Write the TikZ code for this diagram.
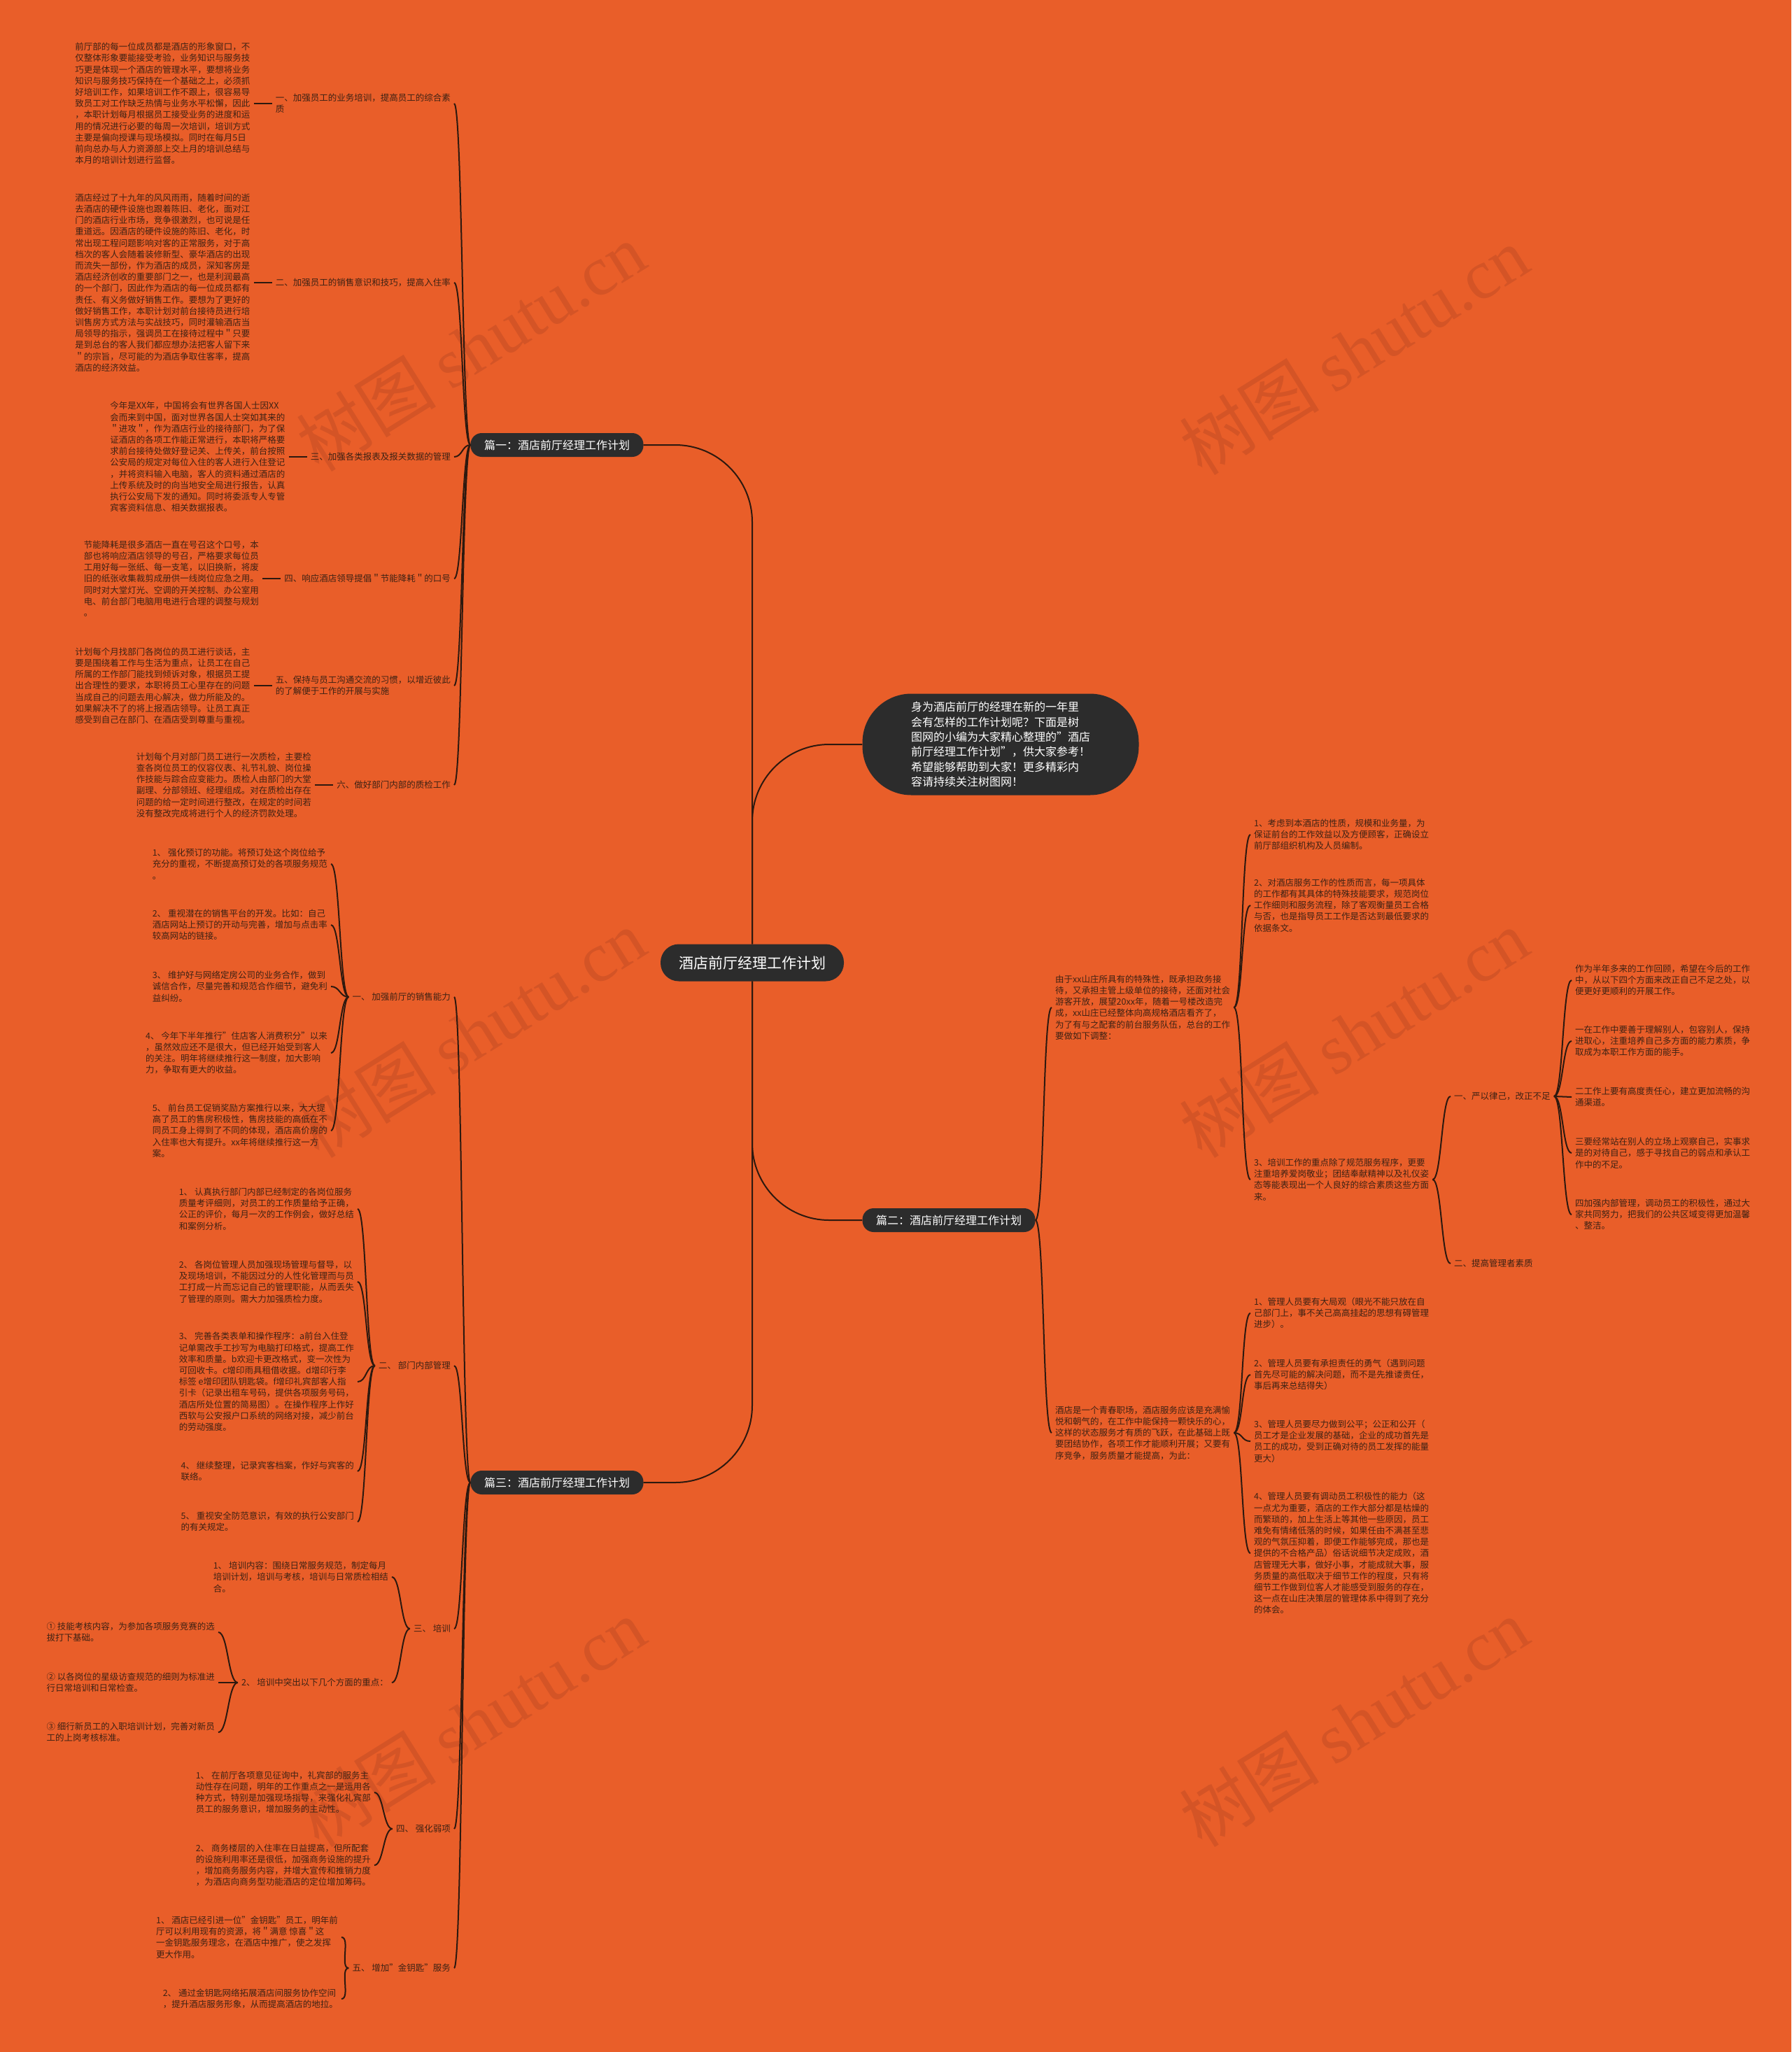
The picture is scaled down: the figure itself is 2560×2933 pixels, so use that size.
\documentclass[tikz,border=0pt]{standalone}
\usepackage{fontspec}
\setmainfont{Noto Sans CJK SC}
\newfontfamily\wmlatin{Liberation Serif}
\usetikzlibrary{positioning,calc}
\definecolor{bgorange}{RGB}{233,94,41}
\definecolor{inkbrown}{RGB}{62,34,20}
\definecolor{linebrown}{RGB}{45,25,15}
\definecolor{nodedark}{RGB}{44,44,44}
\definecolor{markorange}{RGB}{212,84,38}
\tikzset{LINK/.style={draw=linebrown, line width=2pt}}
\tikzset{LEAF/.style={text=inkbrown, align=left, inner sep=5pt, font=\fontsize{12.5}{16.2}\selectfont}}
\tikzset{PIAN/.style={fill=nodedark, text=white, rounded corners=16pt, minimum width=247pt, minimum height=34pt, font=\fontsize{16}{20}\selectfont}}
\tikzset{ROOT/.style={fill=nodedark, text=white, rounded corners=26pt, minimum width=262pt, minimum height=53pt, font=\fontsize{21}{25}\selectfont}}
\tikzset{INTRO/.style={fill=nodedark, text=white, align=left, rounded corners=70pt, minimum width=395pt, minimum height=145pt, font=\fontsize{16}{21.3}\selectfont}}
\tikzset{WMARK/.style={text=markorange, rotate=32, font=\fontsize{100}{100}\selectfont}}

\begin{document}
\begin{tikzpicture}[x=1pt, y=-1pt]
    \fill[bgorange] (0,0) rectangle (2560,2933);
    \useasboundingbox (0,0) rectangle (2560,2933);

    % watermarks
    \foreach \wx/\wy in {673/496, 1935/501, 673/1477, 1935/1477, 673/2462, 1935/2462}
        \node[WMARK] at (\wx,\wy) {树图 {\wmlatin shutu.cn}};

    % centre, intro and the three parts
    \node[ROOT] (n_root) at (1075,1376) {酒店前厅经理工作计划};
    \node[INTRO] (n_intro) at (1430,1064) {
        身为酒店前厅的经理在新的一年里\\
        会有怎样的工作计划呢？下面是树\\
        图网的小编为大家精心整理的"酒店\\
        前厅经理工作计划"，供大家参考！\\
        希望能够帮助到大家！更多精彩内\\
        容请持续关注树图网！};
    \node[PIAN] (n_pian1) at (796,636) {篇一：酒店前厅经理工作计划};
    \node[PIAN] (n_pian2) at (1356,1744) {篇二：酒店前厅经理工作计划};
    \node[PIAN] (n_pian3) at (796,2119) {篇三：酒店前厅经理工作计划};

    \draw[LINK, rounded corners=110pt] (n_root.north) |- (n_pian1.east);
    \draw[LINK, rounded corners=110pt] (n_root.north) |- (n_intro.west);
    \draw[LINK, rounded corners=110pt] (n_root.south) |- (n_pian2.west);
    \draw[LINK, rounded corners=110pt] (n_root.south) |- (n_pian3.east);

    % ---- part one
    \node[LEAF, anchor=east] (n_p1a) at (649,148) {一、加强员工的业务培训，提高员工的综合素\\质};
    \node[LEAF, anchor=east] (n_p1b) at (649,404) {二、加强员工的销售意识和技巧，提高入住率};
    \node[LEAF, anchor=east] (n_p1c) at (649,653) {三、加强各类报表及报关数据的管理};
    \node[LEAF, anchor=east] (n_p1d) at (649,827) {四、响应酒店领导提倡＂节能降耗＂的口号};
    \node[LEAF, anchor=east] (n_p1e) at (649,980) {五、保持与员工沟通交流的习惯，以增近彼此\\的了解便于工作的开展与实施};
    \node[LEAF, anchor=east] (n_p1f) at (649,1122) {六、做好部门内部的质检工作};

    \node[LEAF, left=26pt of n_p1a] (n_p1a_txt) {
        前厅部的每一位成员都是酒店的形象窗口，不\\
        仅整体形象要能接受考验，业务知识与服务技\\
        巧更是体现一个酒店的管理水平，要想将业务\\
        知识与服务技巧保持在一个基础之上，必须抓\\
        好培训工作，如果培训工作不跟上，很容易导\\
        致员工对工作缺乏热情与业务水平松懈，因此\\
        ，本职计划每月根据员工接受业务的进度和运\\
        用的情况进行必要的每周一次培训，培训方式\\
        主要是偏向授课与现场模拟。同时在每月5日\\
        前向总办与人力资源部上交上月的培训总结与\\
        本月的培训计划进行监督。};
    \node[LEAF, left=26pt of n_p1b] (n_p1b_txt) {
        酒店经过了十九年的风风雨雨，随着时间的逝\\
        去酒店的硬件设施也跟着陈旧、老化，面对江\\
        门的酒店行业市场，竞争很激烈，也可说是任\\
        重道远。因酒店的硬件设施的陈旧、老化，时\\
        常出现工程问题影响对客的正常服务，对于高\\
        档次的客人会随着装修新型、豪华酒店的出现\\
        而流失一部份，作为酒店的成员，深知客房是\\
        酒店经济创收的重要部门之一，也是利润最高\\
        的一个部门，因此作为酒店的每一位成员都有\\
        责任、有义务做好销售工作。要想为了更好的\\
        做好销售工作，本职计划对前台接待员进行培\\
        训售房方式方法与实战技巧，同时灌输酒店当\\
        局领导的指示，强调员工在接待过程中＂只要\\
        是到总台的客人我们都应想办法把客人留下来\\
        ＂的宗旨，尽可能的为酒店争取住客率，提高\\
        酒店的经济效益。};
    \node[LEAF, left=26pt of n_p1c] (n_p1c_txt) {
        今年是XX年，中国将会有世界各国人士因XX\\
        会而来到中国，面对世界各国人士突如其来的\\
        ＂进攻＂，作为酒店行业的接待部门，为了保\\
        证酒店的各项工作能正常进行，本职将严格要\\
        求前台接待处做好登记关、上传关，前台按照\\
        公安局的规定对每位入住的客人进行入住登记\\
        ，并将资料输入电脑，客人的资料通过酒店的\\
        上传系统及时的向当地安全局进行报告，认真\\
        执行公安局下发的通知。同时将委派专人专管\\
        宾客资料信息、相关数据报表。};
    \node[LEAF, left=26pt of n_p1d] (n_p1d_txt) {
        节能降耗是很多酒店一直在号召这个口号，本\\
        部也将响应酒店领导的号召，严格要求每位员\\
        工用好每一张纸、每一支笔，以旧换新，将废\\
        旧的纸张收集裁剪成册供一线岗位应急之用。\\
        同时对大堂灯光、空调的开关控制、办公室用\\
        电、前台部门电脑用电进行合理的调整与规划\\
        。};
    \node[LEAF, left=26pt of n_p1e] (n_p1e_txt) {
        计划每个月找部门各岗位的员工进行谈话，主\\
        要是围绕着工作与生活为重点，让员工在自己\\
        所属的工作部门能找到倾诉对象，根据员工提\\
        出合理性的要求，本职将员工心里存在的问题\\
        当成自己的问题去用心解决，做力所能及的。\\
        如果解决不了的将上报酒店领导。让员工真正\\
        感受到自己在部门、在酒店受到尊重与重视。};
    \node[LEAF, left=26pt of n_p1f] (n_p1f_txt) {
        计划每个月对部门员工进行一次质检，主要检\\
        查各岗位员工的仪容仪表、礼节礼貌、岗位操\\
        作技能与踪合应变能力。质检人由部门的大堂\\
        副理、分部领班、经理组成。对在质检出存在\\
        问题的给一定时间进行整改，在规定的时间若\\
        没有整改完成将进行个人的经济罚款处理。};

    \foreach \n in {n_p1a,n_p1b,n_p1c,n_p1d,n_p1e,n_p1f} {
        \draw[LINK] (n_pian1.west) .. controls +(-12,0) and +(12,0) .. (\n.east);
        \draw[LINK] (\n_txt.east) -- (\n.west);
    }

    % ---- part three
    \node[LEAF, anchor=east] (n_p3a) at (649,1425) {一、 加强前厅的销售能力};
    \node[LEAF, anchor=east] (n_p3b) at (649,1952) {二、 部门内部管理};
    \node[LEAF, anchor=east] (n_p3c) at (649,2328) {三、 培训};
    \node[LEAF, anchor=east] (n_p3d) at (649,2614) {四、 强化弱项};
    \node[LEAF, anchor=east] (n_p3e) at (649,2813) {五、 增加"金钥匙"服务};
    \foreach \n in {n_p3a,n_p3b,n_p3c,n_p3d,n_p3e}
        \draw[LINK] (n_pian3.west) .. controls +(-12,0) and +(12,0) .. (\n.east);

    \node[LEAF, anchor=east] (n_p3a_1) at (473,1235) {1、 强化预订的功能。将预订处这个岗位给予\\充分的重视，不断提高预订处的各项服务规范\\。};
    \node[LEAF, anchor=east] (n_p3a_2) at (473,1322) {2、 重视潜在的销售平台的开发。比如：自己\\酒店网站上预订的开动与完善，增加与点击率\\较高网站的链接。};
    \node[LEAF, anchor=east] (n_p3a_3) at (473,1410) {3、 维护好与网络定房公司的业务合作，做到\\诚信合作，尽量完善和规范合作细节，避免利\\益纠纷。};
    \node[LEAF, anchor=east] (n_p3a_4) at (473,1505) {4、 今年下半年推行"住店客人消费积分"以来\\，虽然效应还不是很大，但已经开始受到客人\\的关注。明年将继续推行这一制度，加大影响\\力，争取有更大的收益。};
    \node[LEAF, anchor=east] (n_p3a_5) at (473,1616) {5、 前台员工促销奖励方案推行以来，大大提\\高了员工的售房积极性，售房技能的高低在不\\同员工身上得到了不同的体现，酒店高价房的\\入住率也大有提升。xx年将继续推行这一方\\案。};
    \foreach \n in {n_p3a_1,n_p3a_2,n_p3a_3,n_p3a_4,n_p3a_5}
        \draw[LINK] (n_p3a.west) .. controls +(-13,0) and +(13,0) .. (\n.east);

    \node[LEAF, anchor=east] (n_p3b_1) at (511,1728) {1、 认真执行部门内部已经制定的各岗位服务\\质量考评细则，对员工的工作质量给予正确，\\公正的评价，每月一次的工作例会，做好总结\\和案例分析。};
    \node[LEAF, anchor=east] (n_p3b_2) at (511,1832) {2、 各岗位管理人员加强现场管理与督导，以\\及现场培训，不能因过分的人性化管理而与员\\工打成一片而忘记自己的管理职能，从而丢失\\了管理的原则。需大力加强质检力度。};
    \node[LEAF, anchor=east] (n_p3b_3) at (511,1975) {3、 完善各类表单和操作程序：a前台入住登\\记单需改手工抄写为电脑打印格式，提高工作\\效率和质量。b欢迎卡更改格式，变一次性为\\可回收卡。c增印雨具租借收据。d增印行李\\标签 e增印团队钥匙袋。f增印礼宾部客人指\\引卡（记录出租车号码，提供各项服务号码，\\酒店所处位置的简易图）。在操作程序上作好\\西软与公安报户口系统的网络对接，减少前台\\的劳动强度。};
    \node[LEAF, anchor=east] (n_p3b_4) at (511,2103) {4、 继续整理，记录宾客档案，作好与宾客的\\联络。};
    \node[LEAF, anchor=east] (n_p3b_5) at (511,2175) {5、 重视安全防范意识，有效的执行公安部门\\的有关规定。};
    \foreach \n in {n_p3b_1,n_p3b_2,n_p3b_3,n_p3b_4,n_p3b_5}
        \draw[LINK] (n_p3b.west) .. controls +(-13,0) and +(13,0) .. (\n.east);

    \node[LEAF, anchor=east] (n_p3c_1) at (560,2254) {1、 培训内容：围绕日常服务规范，制定每月\\培训计划，培训与考核，培训与日常质检相结\\合。};
    \node[LEAF, anchor=east] (n_p3c_2) at (560,2405) {2、 培训中突出以下几个方面的重点：};
    \foreach \n in {n_p3c_1,n_p3c_2}
        \draw[LINK] (n_p3c.west) .. controls +(-13,0) and +(13,0) .. (\n.east);
    \node[LEAF, anchor=east] (n_p3c_2a) at (312,2333) {① 技能考核内容，为参加各项服务竞赛的选\\拔打下基础。};
    \node[LEAF, anchor=east] (n_p3c_2b) at (312,2405) {② 以各岗位的星级访查规范的细则为标准进\\行日常培训和日常检查。};
    \node[LEAF, anchor=east] (n_p3c_2c) at (312,2476) {③ 细行新员工的入职培训计划，完善对新员\\工的上岗考核标准。};
    \foreach \n in {n_p3c_2a,n_p3c_2b,n_p3c_2c}
        \draw[LINK] (n_p3c_2.west) .. controls +(-14,0) and +(14,0) .. (\n.east);

    \node[LEAF, anchor=east] (n_p3d_1) at (535,2562) {1、 在前厅各项意见征询中，礼宾部的服务主\\动性存在问题，明年的工作重点之一是运用各\\种方式，特别是加强现场指导，来强化礼宾部\\员工的服务意识，增加服务的主动性。};
    \node[LEAF, anchor=east] (n_p3d_2) at (535,2666) {2、 商务楼层的入住率在日益提高，但所配套\\的设施利用率还是很低，加强商务设施的提升\\，增加商务服务内容，并增大宣传和推销力度\\，为酒店向商务型功能酒店的定位增加筹码。};
    \foreach \n in {n_p3d_1,n_p3d_2}
        \draw[LINK] (n_p3d.west) .. controls +(-13,0) and +(13,0) .. (\n.east);

    \node[LEAF, anchor=east] (n_p3e_1) at (488,2769) {1、 酒店已经引进一位"金钥匙"员工，明年前\\厅可以利用现有的资源，将＂满意 惊喜＂这\\一金钥匙服务理念，在酒店中推广，使之发挥\\更大作用。};
    \node[LEAF, anchor=east] (n_p3e_2) at (488,2857) {2、 通过金钥匙网络拓展酒店间服务协作空间\\，提升酒店服务形象，从而提高酒店的地拉。};
    \foreach \n in {n_p3e_1,n_p3e_2}
        \draw[LINK] (n_p3e.west) .. controls +(-13,0) and +(13,0) .. (\n.east);

    % ---- part two
    \node[LEAF, anchor=west] (n_p2a) at (1503,1440) {
        由于xx山庄所具有的特殊性，既承担政务接\\
        待，又承担主管上级单位的接待，还面对社会\\
        游客开放，展望20xx年，随着一号楼改造完\\
        成，xx山庄已经整体向高规格酒店看齐了，\\
        为了有与之配套的前台服务队伍，总台的工作\\
        要做如下调整：};
    \node[LEAF, anchor=west] (n_p2b) at (1503,2048) {
        酒店是一个青春职场，酒店服务应该是充满愉\\
        悦和朝气的，在工作中能保持一颗快乐的心，\\
        这样的状态服务才有质的飞跃，在此基础上既\\
        要团结协作，各项工作才能顺利开展；又要有\\
        序竞争，服务质量才能提高，为此：};
    \foreach \n in {n_p2a,n_p2b}
        \draw[LINK] (n_pian2.east) .. controls +(13,0) and +(-13,0) .. (\n.west);

    \node[LEAF, anchor=west] (n_p2a_1) at (1787,1193) {1、考虑到本酒店的性质，规模和业务量，为\\保证前台的工作效益以及方便顾客，正确设立\\前厅部组织机构及人员编制。};
    \node[LEAF, anchor=west] (n_p2a_2) at (1787,1294) {2、对酒店服务工作的性质而言，每一项具体\\的工作都有其具体的特殊技能要求，规范岗位\\工作细则和服务流程，除了客观衡量员工合格\\与否，也是指导员工工作是否达到最低要求的\\依据条文。};
    \node[LEAF, anchor=west] (n_p2a_3) at (1787,1686) {3、培训工作的重点除了规范服务程序，更要\\注重培养爱岗敬业；团结奉献精神以及礼仪姿\\态等能表现出一个人良好的综合素质这些方面\\来。};
    \foreach \n in {n_p2a_1,n_p2a_2,n_p2a_3}
        \draw[LINK] (n_p2a.east) .. controls +(13,0) and +(-13,0) .. (\n.west);

    \node[LEAF, anchor=west] (n_sub1) at (2073,1567) {一、严以律己，改正不足};
    \node[LEAF, anchor=west] (n_sub2) at (2073,1806) {二、提高管理者素质};
    \foreach \n in {n_sub1,n_sub2}
        \draw[LINK] (n_p2a_3.east) .. controls +(13,0) and +(-13,0) .. (\n.west);

    \node[LEAF, anchor=west] (n_sub1_1) at (2246,1401) {作为半年多来的工作回顾，希望在今后的工作\\中，从以下四个方面来改正自己不足之处，以\\便更好更顺利的开展工作。};
    \node[LEAF, anchor=west] (n_sub1_2) at (2246,1488) {一在工作中要善于理解别人，包容别人，保持\\进取心，注重培养自己多方面的能力素质，争\\取成为本职工作方面的能手。};
    \node[LEAF, anchor=west] (n_sub1_3) at (2246,1568) {二工作上要有高度责任心，建立更加流畅的沟\\通渠道。};
    \node[LEAF, anchor=west] (n_sub1_4) at (2246,1648) {三要经常站在别人的立场上观察自己，实事求\\是的对待自己，感于寻找自己的弱点和承认工\\作中的不足。};
    \node[LEAF, anchor=west] (n_sub1_5) at (2246,1736) {四加强内部管理，调动员工的积极性，通过大\\家共同努力，把我们的公共区域变得更加温馨\\、整洁。};
    \foreach \n in {n_sub1_1,n_sub1_2,n_sub1_3,n_sub1_4,n_sub1_5}
        \draw[LINK] (n_sub1.east) .. controls +(13,0) and +(-13,0) .. (\n.west);

    \node[LEAF, anchor=west] (n_p2b_1) at (1787,1877) {1、管理人员要有大局观（眼光不能只放在自\\己部门上，事不关己高高挂起的思想有碍管理\\进步）。};
    \node[LEAF, anchor=west] (n_p2b_2) at (1787,1965) {2、管理人员要有承担责任的勇气（遇到问题\\首先尽可能的解决问题，而不是先推诿责任，\\事后再来总结得失）};
    \node[LEAF, anchor=west] (n_p2b_3) at (1787,2060) {3、管理人员要尽力做到公平；公正和公开（\\员工才是企业发展的基础，企业的成功首先是\\员工的成功，受到正确对待的员工发挥的能量\\更大）};
    \node[LEAF, anchor=west] (n_p2b_4) at (1787,2220) {4、管理人员要有调动员工积极性的能力（这\\一点尤为重要，酒店的工作大部分都是枯燥的\\而繁琐的，加上生活上等其他一些原因，员工\\难免有情绪低落的时候，如果任由不满甚至悲\\观的气氛压抑着，即便工作能够完成，那也是\\提供的不合格产品）俗话说细节决定成败，酒\\店管理无大事，做好小事，才能成就大事，服\\务质量的高低取决于细节工作的程度，只有将\\细节工作做到位客人才能感受到服务的存在，\\这一点在山庄决策层的管理体系中得到了充分\\的体会。};
    \foreach \n in {n_p2b_1,n_p2b_2,n_p2b_3,n_p2b_4}
        \draw[LINK] (n_p2b.east) .. controls +(13,0) and +(-13,0) .. (\n.west);

\end{tikzpicture}
\end{document}
